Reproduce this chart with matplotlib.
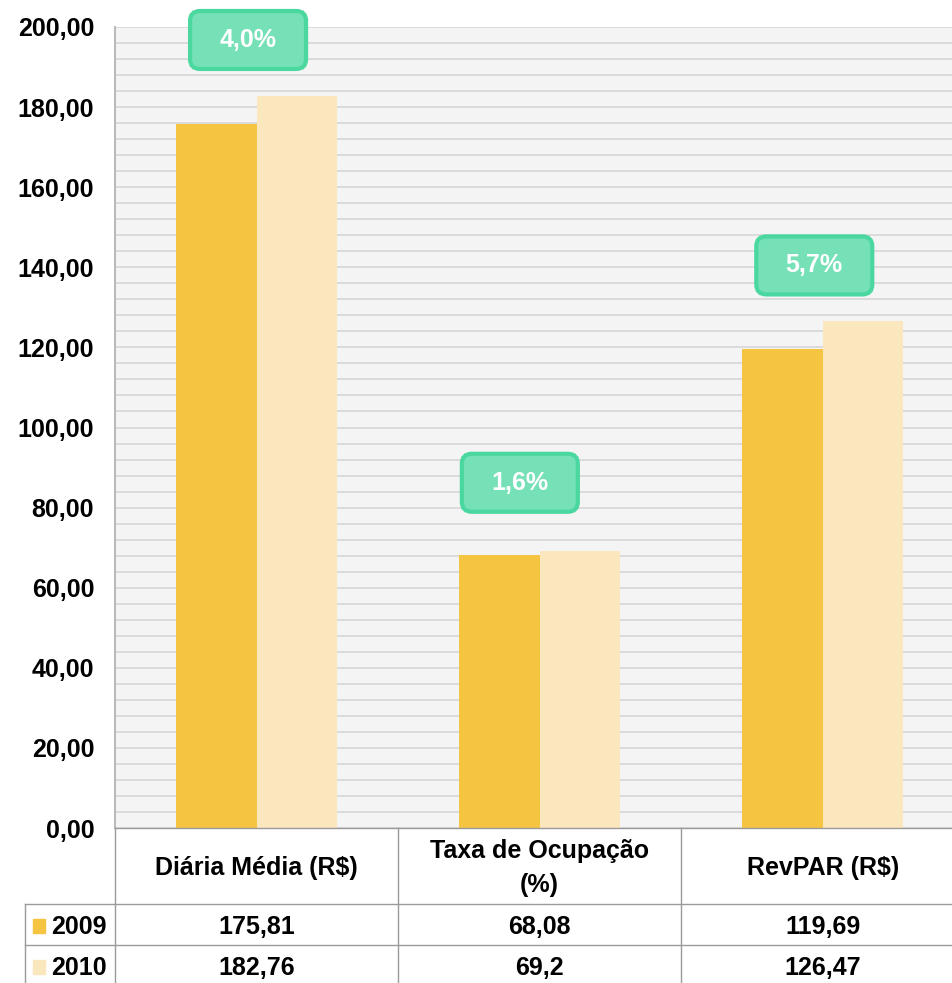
import matplotlib.pyplot as plt
import matplotlib.transforms as mtransforms
from matplotlib.patches import FancyBboxPatch, Rectangle
from matplotlib.lines import Line2D
import numpy as np

plt.rcParams['font.family'] = ['Liberation Sans', 'DejaVu Sans']

categories = ["Diária Média (R$)", "Taxa de Ocupação\n(%)", "RevPAR (R$)"]
years = ["2009", "2010"]
v2009 = [175.81, 68.08, 119.69]
v2010 = [182.76, 69.2, 126.47]
labels2009 = ["175,81", "68,08", "119,69"]
labels2010 = ["182,76", "69,2", "126,47"]
growth = ["4,0%", "1,6%", "5,7%"]

c2009 = "#F5C542"
c2010 = "#FBE7BE"
W, H = 953, 983
fs = 18

fig = plt.figure(figsize=(W / 100, H / 100), dpi=100)
ax = fig.add_axes([115 / W, (H - 828) / H, 1 - 115 / W, (828 - 27) / H])
ax.set_facecolor("#F4F4F4")

x = np.arange(len(categories))
bw = 0.285
ax.bar(x - bw / 2, v2009, bw, color=c2009, zorder=3)
ax.bar(x + bw / 2, v2010, bw, color=c2010, zorder=3)

ax.set_xlim(-0.5, 2.46)
ax.set_ylim(0, 200)
ax.set_yticks(np.arange(0, 201, 20))
ax.set_yticklabels([f"{v:.2f}".replace(".", ",") for v in np.arange(0, 201, 20)],
                   fontsize=fs, fontweight="bold")
ax.set_yticks(np.arange(0, 201, 4), minor=True)
ax.tick_params(axis="y", which="both", length=0, pad=15)
ax.set_xticks([])
ax.grid(axis="y", which="both", color="#D6D6D6", linewidth=1.2, zorder=0)
for s in ["top", "right", "bottom"]:
    ax.spines[s].set_visible(False)
ax.spines["left"].set_color("#BBBBBB")
ax.spines["left"].set_linewidth(1.5)

# growth badges
offs = [(-0.03, 14), (-0.07, 17), (-0.03, 14)]
for i, g in enumerate(growth):
    top = max(v2009[i], v2010[i])
    cx = x[i] + offs[i][0]
    cy = top + offs[i][1]
    tr = fig.dpi_scale_trans + mtransforms.ScaledTranslation(cx, cy, ax.transData)
    box = FancyBboxPatch((-0.58, -0.29), 1.16, 0.58,
                         boxstyle="round,pad=0,rounding_size=0.1",
                         facecolor="#76E0B7", edgecolor="#4BD8A0", linewidth=3,
                         transform=tr, zorder=5, clip_on=False)
    ax.add_patch(box)
    ax.text(cx, cy, g, ha="center", va="center", color="white",
            fontsize=fs, fontweight="bold", zorder=6)

# table below the chart
bt = mtransforms.blended_transform_factory(ax.transData, fig.transFigure)
def fy(py):
    return 1 - py / H
line_c = "#9A9A9A"
edges = [-0.5, 0.5, 1.5, 2.5]
for e in edges[:3]:
    fig.add_artist(Line2D([e, e], [fy(828), fy(H)], transform=bt, color=line_c, lw=1))
fig.add_artist(Line2D([25 / W, 25 / W], [fy(904), fy(H)], color=line_c, lw=1))
for py, x0 in [(828, 115), (904, 25), (945, 25)]:
    fig.add_artist(Line2D([x0 / W, 1], [fy(py), fy(py)], color=line_c, lw=1))

for i, c in enumerate(categories):
    fig.text(x[i], fy(868), c, transform=bt, ha="center", va="center",
             fontsize=fs, fontweight="bold", linespacing=1.5)
    fig.text(x[i], fy(927), labels2009[i], transform=bt, ha="center", va="center",
             fontsize=fs, fontweight="bold")
    fig.text(x[i], fy(968), labels2010[i], transform=bt, ha="center", va="center",
             fontsize=fs, fontweight="bold")

for yr, col, py in [(years[0], c2009, 927), (years[1], c2010, 968)]:
    fig.add_artist(Rectangle((33 / W, fy(py + 6)), 12 / W, 14 / H, color=col,
                             transform=fig.transFigure))
    fig.text(51 / W, fy(py), yr, ha="left", va="center", fontsize=fs,
             fontweight="bold")

fig.savefig("out.png", dpi=100)
